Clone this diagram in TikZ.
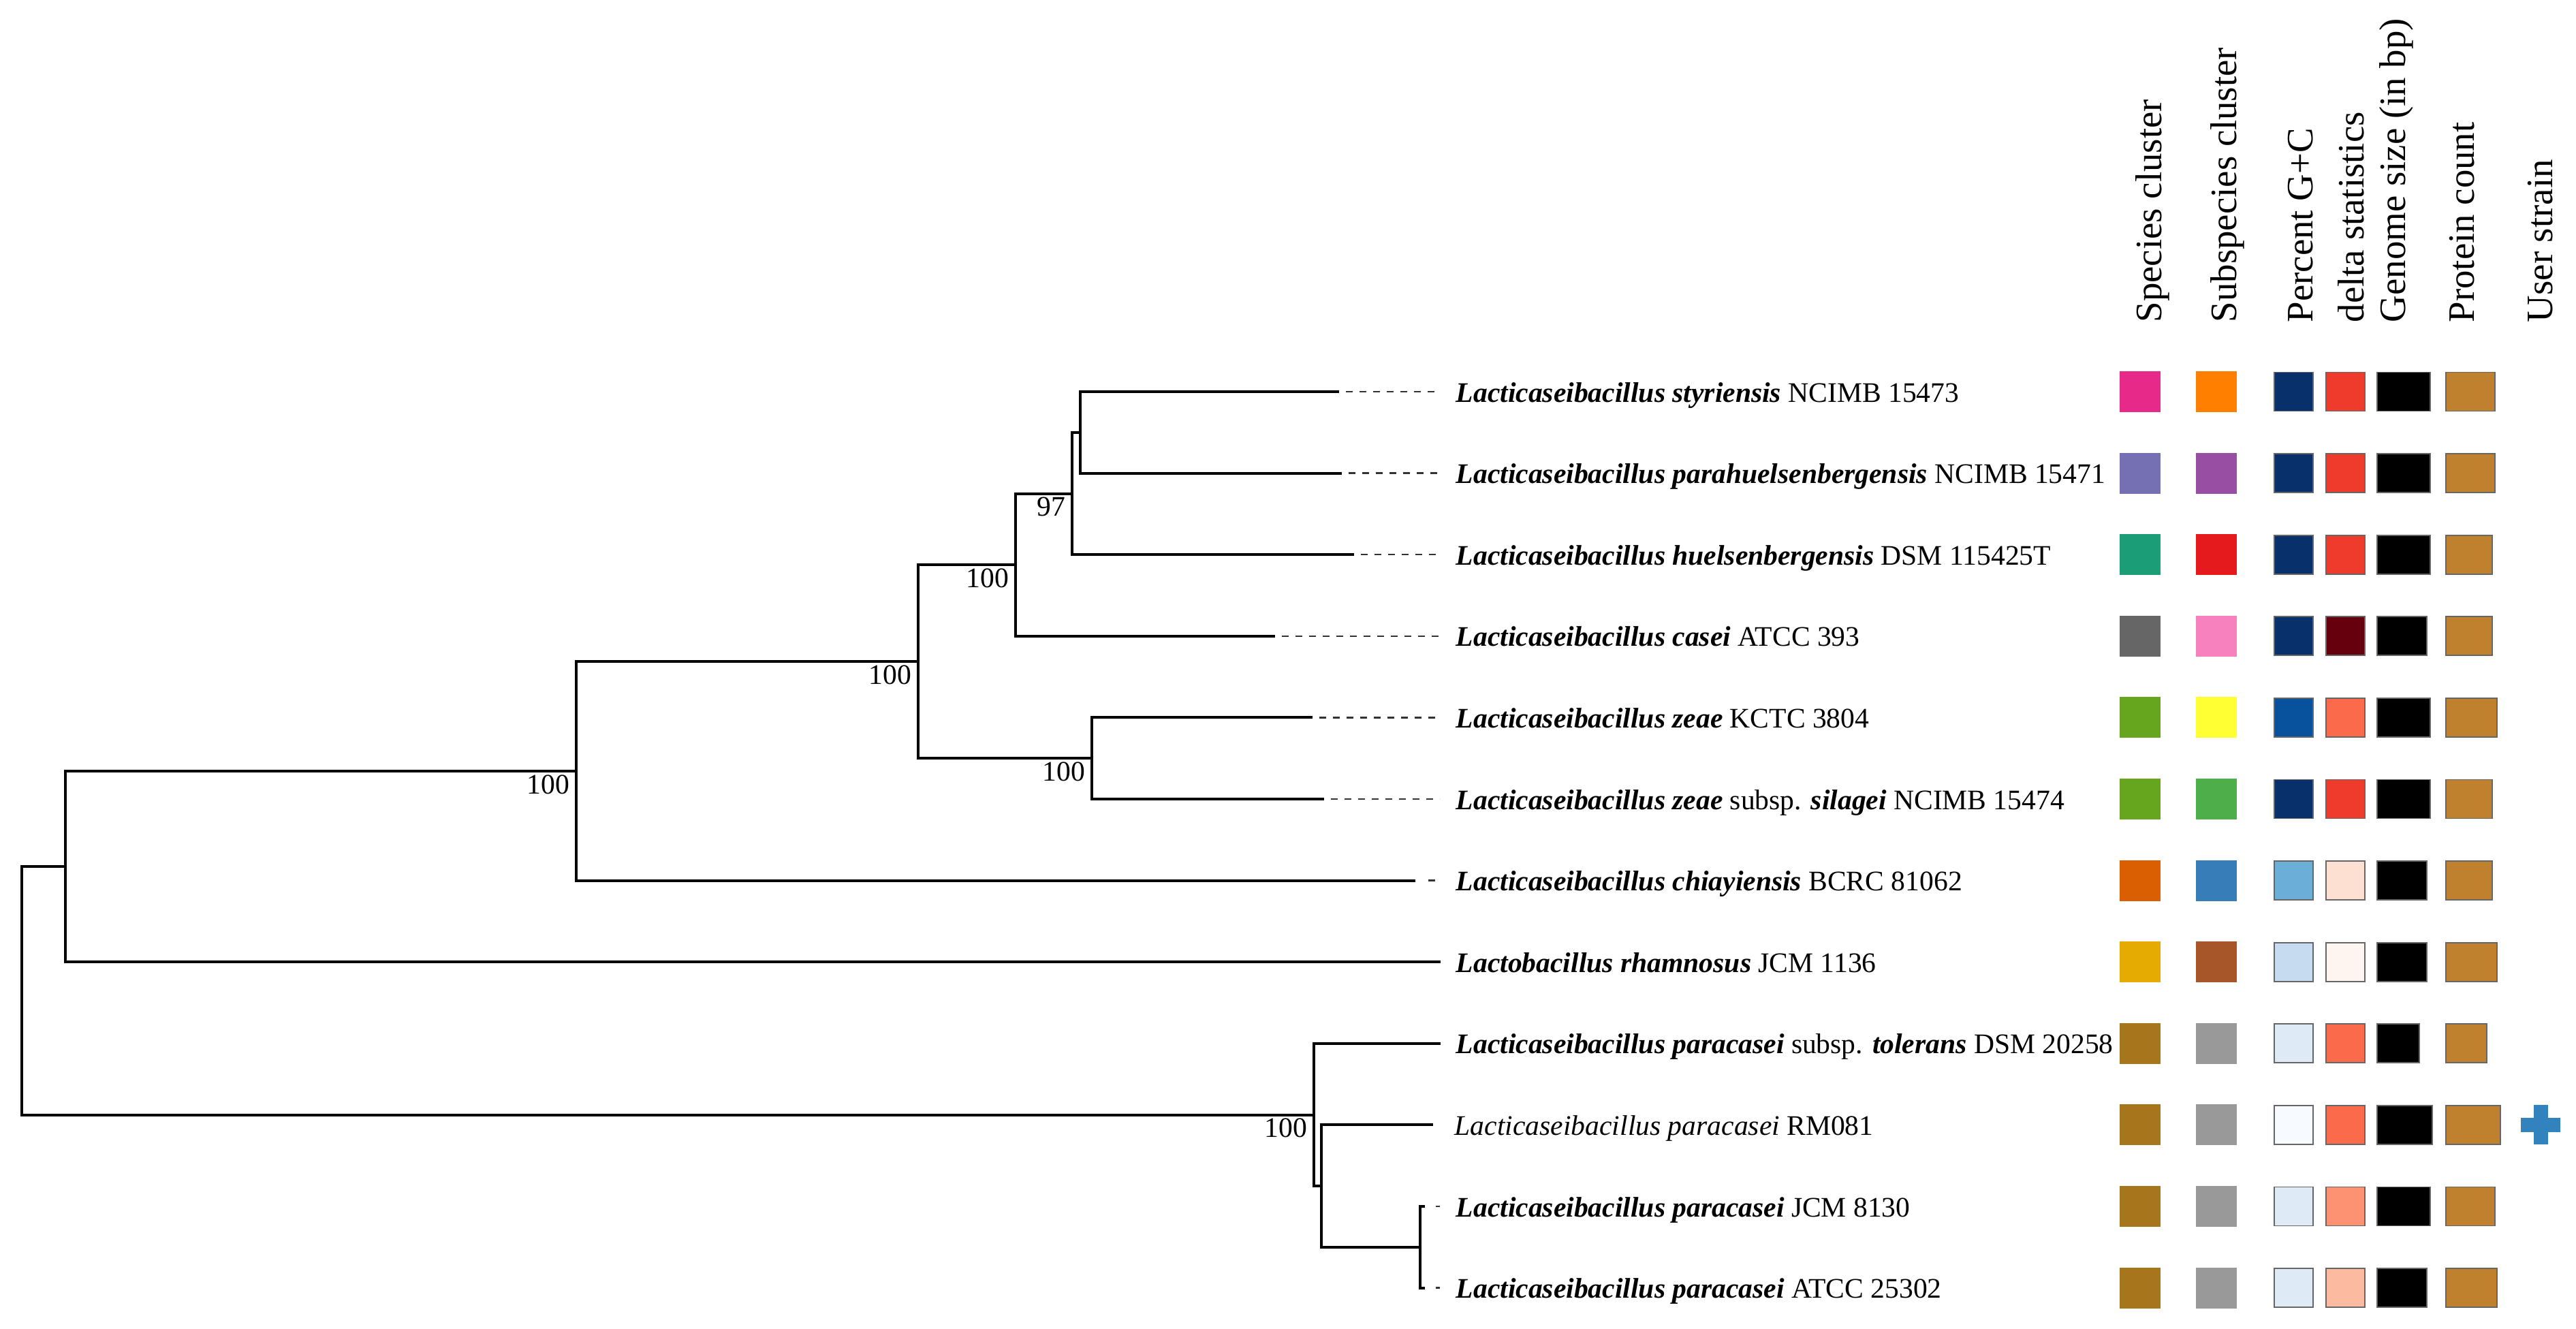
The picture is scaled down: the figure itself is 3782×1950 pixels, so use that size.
\documentclass[tikz,border=0pt]{standalone}
\usepackage{fontspec}
\setmainfont{Liberation Serif}
\usetikzlibrary{calc}
\newcommand{\bfit}[1]{\textbf{\textit{#1}}}
\definecolor{spA}{HTML}{E7298A}\definecolor{spB}{HTML}{7570B3}\definecolor{spC}{HTML}{1B9E77}
\definecolor{spD}{HTML}{666666}\definecolor{spE}{HTML}{66A61E}\definecolor{spF}{HTML}{D95F02}
\definecolor{spG}{HTML}{E6AB02}\definecolor{spH}{HTML}{A6761D}
\definecolor{suA}{HTML}{FF7F00}\definecolor{suB}{HTML}{984EA3}\definecolor{suC}{HTML}{E41A1C}
\definecolor{suD}{HTML}{F781BF}\definecolor{suE}{HTML}{FFFF33}\definecolor{suF}{HTML}{4DAF4A}
\definecolor{suG}{HTML}{377EB8}\definecolor{suH}{HTML}{A65628}\definecolor{suI}{HTML}{999999}
\definecolor{gcA}{HTML}{08306B}\definecolor{gcB}{HTML}{08519C}\definecolor{gcC}{HTML}{6BAED6}
\definecolor{gcD}{HTML}{C6DBEF}\definecolor{gcE}{HTML}{DEEBF7}\definecolor{gcF}{HTML}{F7FBFF}
\definecolor{dlA}{HTML}{EF3B2C}\definecolor{dlB}{HTML}{67000D}\definecolor{dlC}{HTML}{FB6A4A}
\definecolor{dlD}{HTML}{FEE0D2}\definecolor{dlE}{HTML}{FFF5F0}\definecolor{dlF}{HTML}{FC9272}
\definecolor{dlG}{HTML}{FCBBA1}
\definecolor{protc}{HTML}{BF812D}
\definecolor{plusblue}{HTML}{3182BD}
\tikzset{
  branch/.style={line width=1pt, black},
  leafdash/.style={line width=0.6pt, black!80, dash pattern=on 2.5pt off 2.5pt},
  leaflabel/.style={anchor=base west, inner sep=0pt, font=\fontsize{10.4}{12}\selectfont},
  boot/.style={anchor=north east, inner sep=0pt, font=\fontsize{10.4}{12}\selectfont},
  header/.style={rotate=90, anchor=base west, inner sep=0pt, font=\fontsize{13.7}{16}\selectfont},
  cell/.style={draw=black!60, line width=0.45pt},
}
% y, species, subspecies, gc, delta, genome right, protein right
\newcommand{\cellrow}[7]{%
  \fill[#2] (3112,#1-30) rectangle (3172,#1+30);
  \fill[#3] (3224,#1-30) rectangle (3284,#1+30);
  \filldraw[cell, fill=#4] (3339,#1-28.5) rectangle (3396,#1+28.5);
  \filldraw[cell, fill=#5] (3415,#1-28.5) rectangle (3472,#1+28.5);
  \filldraw[cell, fill=black] (3490,#1-28.5) rectangle (#6,#1+28.5);
  \filldraw[cell, fill=protc] (3591,#1-28.5) rectangle (#7,#1+28.5);
}
\begin{document}
\begin{tikzpicture}[x=0.25pt, y=-0.25pt]
\fill[white] (0,0) rectangle (3782,1950);
\useasboundingbox (0,0) rectangle (3782,1950);

% headers
\node[header] (hA) at (3173,474) {Species cluster};
\node[header] (hB) at (3283,474) {Subspecies cluster};
\node[header] (hC) at (3395,474) {Percent G+C};
\node[header] (hD) at (3470,474) {delta statistics};
\node[header] (hE) at (3531,474) {Genome size (in bp)};
\node[header] (hF) at (3632,474) {Protein count};
\node[header] (hG) at (3747,474) {User strain};

% tree internal nodes
\coordinate (root) at (32,1454);
\coordinate (n1) at (96,1272);
\coordinate (n2) at (846,1131.9);
\coordinate (n3) at (1348,971.2);
\coordinate (n4) at (1491,829.2);
\coordinate (n5) at (1574,724.5);
\coordinate (n6) at (1586,634.8);
\coordinate (n7) at (1603,1113.2);
\coordinate (n8) at (1929,1636.5);
\coordinate (n9) at (1940,1741.1);
\coordinate (n10) at (2085,1830.8);
% leaf ends
\coordinate (l1) at (1966,575);
\coordinate (l2) at (1970,694.6);
\coordinate (l3) at (1988,814.2);
\coordinate (l4) at (1872,933.8);
\coordinate (l5) at (1927,1053.4);
\coordinate (l6) at (1944,1173);
\coordinate (l7) at (2078,1292.6);
\coordinate (l8) at (2115,1412.2);
\coordinate (l9) at (2115,1531.8);
\coordinate (l10) at (2104,1651.4);
\coordinate (l11) at (2092,1771);
\coordinate (l12) at (2092,1890.6);
\foreach \i/\y in {1/575,2/694.6,3/814.2,4/933.8,5/1053.4,6/1173,7/1292.6,11/1771,12/1890.6}
  \coordinate (t\i) at (2114,\y);

\draw[branch] (root) |- (n1);
\draw[branch] (root) |- (n8);
\draw[branch] (n1) |- (n2);
\draw[branch] (n1) |- (l8);
\draw[branch] (n2) |- (n3);
\draw[branch] (n2) |- (l7);
\draw[branch] (n3) |- (n4);
\draw[branch] (n3) |- (n7);
\draw[branch] (n4) |- (n5);
\draw[branch] (n4) |- (l4);
\draw[branch] (n5) |- (n6);
\draw[branch] (n5) |- (l3);
\draw[branch] (n6) |- (l1);
\draw[branch] (n6) |- (l2);
\draw[branch] (n7) |- (l5);
\draw[branch] (n7) |- (l6);
\draw[branch] (n8) |- (l9);
\draw[branch] (n8) |- (n9);
\draw[branch] (n9) |- (l10);
\draw[branch] (n9) |- (n10);
\draw[branch] (n10) |- (l11);
\draw[branch] (n10) |- (l12);

\foreach \i in {1,2,3,4,5,6}
  \draw[leafdash] (l\i) ++(10,0) -- (t\i);
\draw[leafdash, dash phase=2.5pt] (l7) ++(9,0) -- (t7);
\draw[leafdash, dash phase=2.5pt] (l11) ++(6,0) -- (t11);
\draw[leafdash, dash phase=2.5pt] (l12) ++(6,0) -- (t12);

% bootstrap values
\node[boot] (b2) at ($(n2)+(-9,5)$) {100};
\node[boot] (b3) at ($(n3)+(-9,5)$) {100};
\node[boot] (b4) at ($(n4)+(-9,5)$) {100};
\node[boot] (b5) at ($(n5)+(-9,5)$) {97};
\node[boot] (b7) at ($(n7)+(-9,5)$) {100};
\node[boot] (b8) at ($(n8)+(-9,5)$) {100};

% leaf labels
\node[leaflabel] (tx1) at (2137,590) {\bfit{Lacticaseibacillus styriensis} NCIMB 15473};
\node[leaflabel] (tx2) at (2137,709.6) {\bfit{Lacticaseibacillus parahuelsenbergensis} NCIMB 15471};
\node[leaflabel] (tx3) at (2137,829.2) {\bfit{Lacticaseibacillus huelsenbergensis} DSM 115425T};
\node[leaflabel] (tx4) at (2137,948.8) {\bfit{Lacticaseibacillus casei} ATCC 393};
\node[leaflabel] (tx5) at (2137,1068.4) {\bfit{Lacticaseibacillus zeae} KCTC 3804};
\node[leaflabel] (tx6) at (2137,1188) {\bfit{Lacticaseibacillus zeae} subsp. \bfit{silagei} NCIMB 15474};
\node[leaflabel] (tx7) at (2137,1307.6) {\bfit{Lacticaseibacillus chiayiensis} BCRC 81062};
\node[leaflabel] (tx8) at (2137,1427.2) {\bfit{Lactobacillus rhamnosus} JCM 1136};
\node[leaflabel] (tx9) at (2137,1546.8) {\bfit{Lacticaseibacillus paracasei} subsp. \bfit{tolerans} DSM 20258};
\node[leaflabel] (tx10) at (2135,1666.4) {\textit{Lacticaseibacillus paracasei} RM081};
\node[leaflabel] (tx11) at (2137,1786) {\bfit{Lacticaseibacillus paracasei} JCM 8130};
\node[leaflabel] (tx12) at (2137,1905.6) {\bfit{Lacticaseibacillus paracasei} ATCC 25302};

% data cells
\cellrow{575}{spA}{suA}{gcA}{dlA}{3568}{3663}
\cellrow{694.6}{spB}{suB}{gcA}{dlA}{3568}{3663}
\cellrow{814.2}{spC}{suC}{gcA}{dlA}{3568}{3659}
\cellrow{933.8}{spD}{suD}{gcA}{dlB}{3563}{3659}
\cellrow{1053.4}{spE}{suE}{gcB}{dlC}{3568}{3666}
\cellrow{1173}{spE}{suF}{gcA}{dlA}{3568}{3659}
\cellrow{1292.6}{spF}{suG}{gcC}{dlD}{3563}{3659}
\cellrow{1412.2}{spG}{suH}{gcD}{dlE}{3563}{3666}
\cellrow{1531.8}{spH}{suI}{gcE}{dlC}{3552}{3651}
\cellrow{1651.4}{spH}{suI}{gcF}{dlC}{3571}{3671}
\cellrow{1771}{spH}{suI}{gcE}{dlF}{3568}{3663}
\cellrow{1890.6}{spH}{suI}{gcE}{dlG}{3563}{3666}

% user strain marker
\fill[plusblue] (3701,1641) rectangle (3759,1662);
\fill[plusblue] (3719.5,1622.4) rectangle (3740.5,1680.4);
\end{tikzpicture}
\end{document}
